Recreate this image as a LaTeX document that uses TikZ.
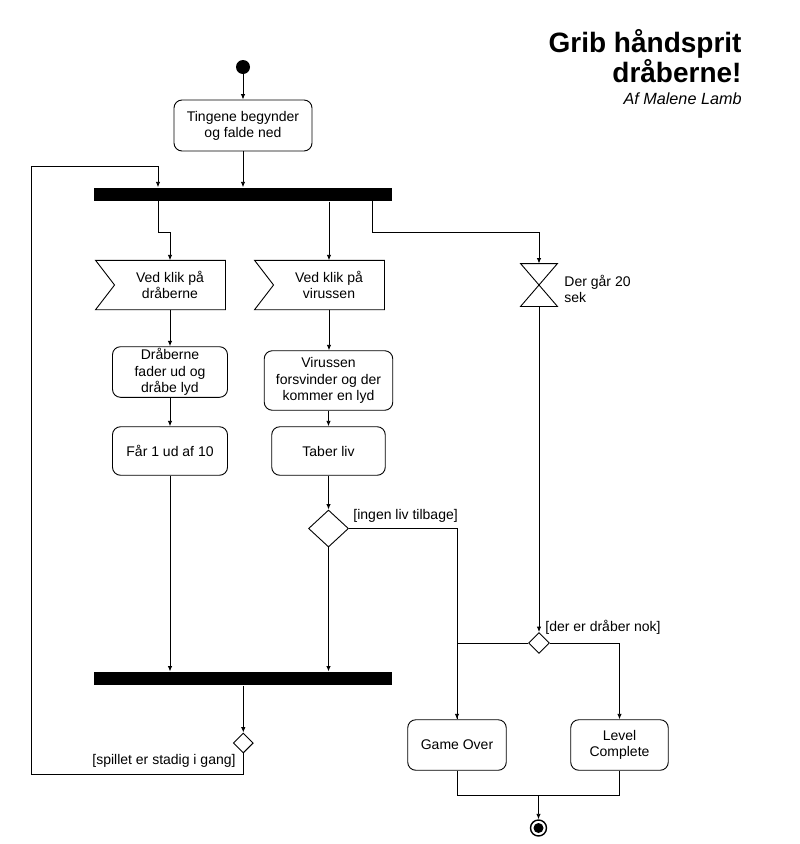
\documentclass[tikz,border=0pt]{standalone}
\usepackage{fontspec}
\setmainfont{Liberation Sans}
\usetikzlibrary{arrows.meta,shapes.geometric}
\begin{document}
\begin{tikzpicture}[x=1pt,y=-1pt,line width=0.9pt,font=\fontsize{14}{16.2}\selectfont,
  act/.style={draw,rounded corners=8pt,align=center,inner sep=2pt},
  bar/.style={fill=black,minimum width=298,minimum height=13.5,inner sep=0},
  choice/.style={draw,diamond,inner sep=0},
  guard/.style={inner sep=0,align=left},
  arr/.style={-{Latex[length=5.5pt,width=4.5pt]}}]
\useasboundingbox (0,0) rectangle (800,844);
% title
\node[anchor=base east,inner sep=0,font=\fontsize{28}{31}\bfseries] (title1) at (742,52) {Grib håndsprit};
\node[anchor=base east,inner sep=0,font=\fontsize{28}{31}\bfseries] (title2) at (742,82) {dråberne!};
\node[anchor=base east,inner sep=0,font=\fontsize{16.2}{19}\itshape] (author) at (742,104) {Af Malene Lamb};
% nodes
\node[circle,fill,minimum size=14,inner sep=0] (start) at (243,67) {};
\node[act,minimum width=138,minimum height=51] (begin) at (243,125.5) {Tingene begynder\\og falde ned};
\node[bar] (fork) at (243,194.5) {};
\node[minimum width=110,minimum height=48.5,inner sep=0,align=center] (sigA) at (170,285) {Ved klik på\\dråberne};
\node[minimum width=110,minimum height=48.5,inner sep=0,align=center] (sigB) at (329,285) {Ved klik på\\virussen};
\draw ([xshift=-19pt]sigA.north west) -- (sigA.north east) -- (sigA.south east) -- ([xshift=-19pt]sigA.south west) -- (sigA.west) -- cycle;
\draw ([xshift=-19pt]sigB.north west) -- (sigB.north east) -- (sigB.south east) -- ([xshift=-19pt]sigB.south west) -- (sigB.west) -- cycle;
\node[minimum width=36,minimum height=42,inner sep=0] (timer) at (539,285) {};
\draw (timer.north west) -- (timer.north east) -- (timer.south west) -- (timer.south east) -- cycle;
\node[guard,anchor=west] (timerlbl) at (564,289) {Der går 20\\sek};
\node[act,minimum width=115,minimum height=49] (dropA) at (170,372) {Dråberne\\fader ud og\\dråbe lyd};
\node[act,minimum width=115,minimum height=48.5] (pointA) at (170,451) {Får 1 ud af 10};
\node[act,minimum width=128.5,minimum height=59.5] (virus) at (328.5,380.5) {Virussen\\forsvinder og der\\kommer en lyd};
\node[act,minimum width=113.5,minimum height=48.5] (lose) at (328.5,451) {Taber liv};
\node[choice,minimum width=40,minimum height=37] (dec1) at (328.5,528.5) {};
\node[guard,anchor=west] (dec1lbl) at (353,515.5) {[ingen liv tilbage]};
\node[choice,minimum width=21,minimum height=21] (dec2) at (539,643) {};
\node[guard,anchor=west] (dec2lbl) at (545,627) {[der er dråber nok]};
\node[bar] (join) at (243.3,678.7) {};
\node[choice,minimum width=20,minimum height=20] (dec3) at (243.3,743) {};
\node[guard,anchor=east] (dec3lbl) at (236,761) {[spillet er stadig i gang]};
\node[act,minimum width=98.5,minimum height=50.5] (over) at (457,745) {Game Over};
\node[act,minimum width=97.5,minimum height=50.5] (level) at (619.5,745) {Level\\Complete};
\node[circle,draw,line width=1.4pt,minimum size=16,inner sep=0] (stop) at (538.5,828) {};
\fill (stop.center) circle (5);
% connectors
\coordinate (fkA) at (158,201);
\coordinate (fkC) at (372,201);
\coordinate (loopA) at (31,774);
\coordinate (loopB) at (31,166);
\coordinate (merge) at (538.5,795);
\draw[arr] (start) -- (begin);
\draw[arr] (begin) -- (fork);
\draw[arr] (fkA) -- ++(0,31) -| (sigA.north);
\draw[arr] (fork.south -| sigB.north) -- (sigB.north);
\draw[arr] (fkC) -- ++(0,31) -| (timer.north);
\draw[arr] (sigA.south) -- (sigA.south |- dropA.north);
\draw[arr] (dropA) -- (pointA);
\draw[arr] (pointA.south) -- (pointA.south |- join.north);
\draw[arr] (sigB.south) -- (sigB.south |- virus.north);
\draw[arr] (virus) -- (lose);
\draw[arr] (lose) -- (dec1);
\draw[arr] (dec1.south) -- (dec1.south |- join.north);
\draw[arr] (dec1.east) -| (over.north);
\draw[arr] (timer.south) -- (dec2.north);
\draw (dec2.west) -| (over.north);
\draw[arr] (dec2.east) -| (level.north);
\draw[arr] (join) -- (dec3);
\draw[arr] (dec3.south) |- (loopA) -- (loopB) -| (fork.north -| fkA);
\draw (over.south) |- (merge);
\draw (level.south) |- (merge);
\draw[arr] (merge) -- (stop);
\end{tikzpicture}
\end{document}
